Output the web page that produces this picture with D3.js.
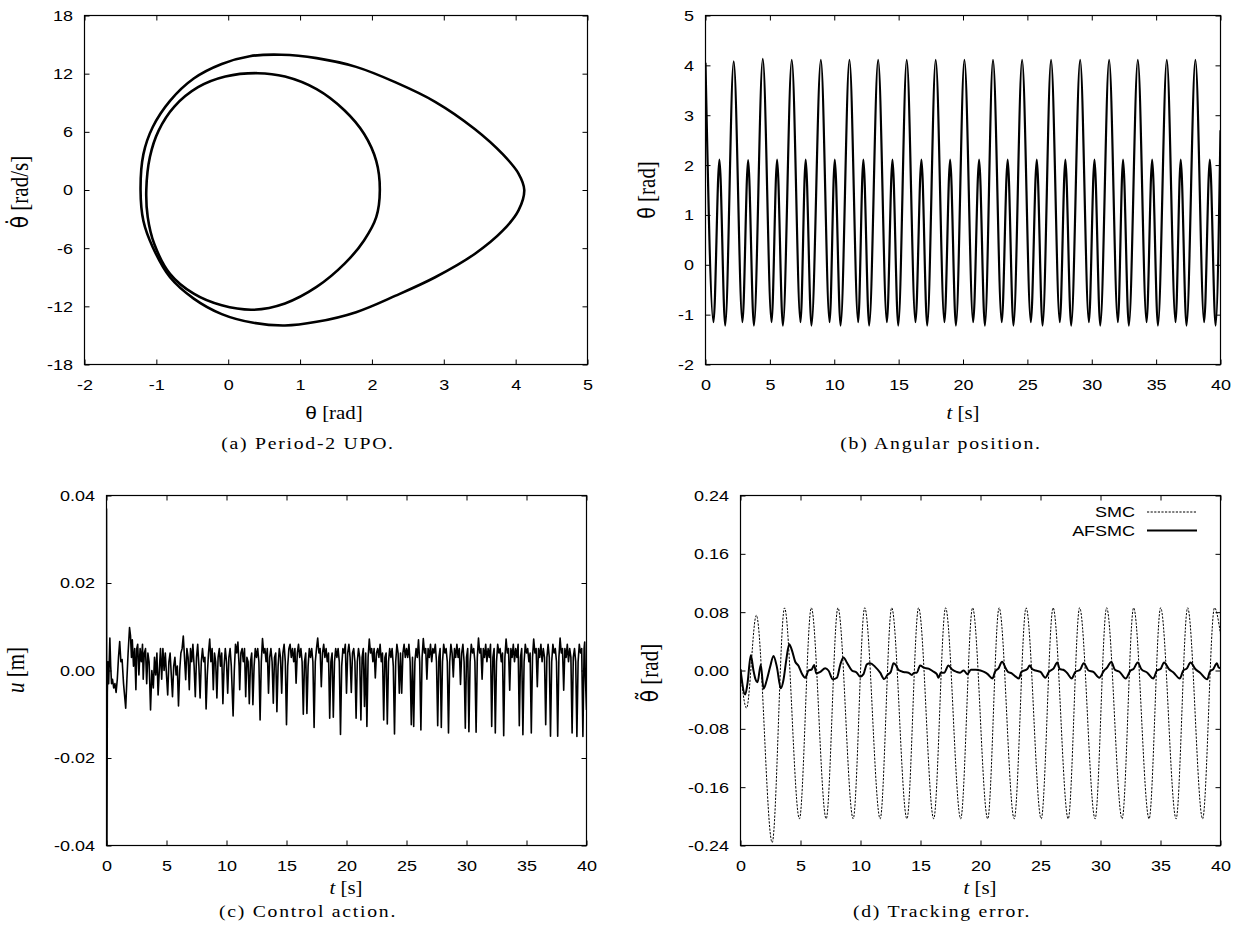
<!DOCTYPE html>
<html>
<head>
<meta charset="utf-8">
<script src="https://cdn.jsdelivr.net/npm/d3@7"></script>
<style>
  body { margin: 0; background: #fff; }
  svg { display: block; }
</style>
</head>
<body>
<script>
// ---------------- data ----------------

// (a) period-2 UPO, [theta, thetaDot]
const orbitOuter = [
  [-1.22, 0], [-1.18, 3.7], [-1.05, 6.5], [-0.81, 9.2], [-0.48, 11.5], [-0.09, 13.0],
  [0.30, 13.8], [0.74, 13.95], [1.23, 13.6], [1.78, 12.7], [2.33, 11.1], [2.88, 9.1],
  [3.43, 6.3], [3.82, 3.7], [4.04, 1.7], [4.12, 0], [4.04, -2.1], [3.82, -4.2],
  [3.43, -6.6], [2.88, -9.0], [2.33, -10.9], [1.78, -12.6], [1.23, -13.6], [0.79, -13.98],
  [0.35, -13.7], [-0.09, -12.8], [-0.48, -11.2], [-0.81, -9.0], [-1.05, -5.9], [-1.18, -3.2]
];
const orbitInner = [
  [-1.14, 0], [-1.09, 3.4], [-0.97, 6.1], [-0.75, 8.6], [-0.42, 10.6], [-0.04, 11.7],
  [0.41, 12.05], [0.79, 11.7], [1.23, 10.4], [1.62, 8.2], [1.89, 5.8], [2.06, 3.0],
  [2.11, 0], [2.06, -2.8], [1.89, -5.2], [1.62, -7.6], [1.23, -10.0], [0.79, -11.7],
  [0.35, -12.35], [-0.09, -11.9], [-0.48, -10.7], [-0.81, -8.65], [-1.03, -5.55], [-1.12, -2.8]
];

// (b) angular position, turning points [t, theta]
const anglePts = [
  [0, 4.05], [0.62, -1.15], [1.08, 2.11], [1.53, -1.22],
  [2.19, 4.08], [2.87, -1.15], [3.31, 2.10], [3.76, -1.22],
  [4.45, 4.13], [5.13, -1.15], [5.56, 2.11], [6.01, -1.22],
  [6.70, 4.11], [7.38, -1.15], [7.78, 2.11], [8.23, -1.22],
  [8.96, 4.11], [9.64, -1.15], [10.04, 2.11], [10.49, -1.22],
  [11.18, 4.11], [11.86, -1.15], [12.26, 2.11], [12.71, -1.22],
  [13.41, 4.11], [14.09, -1.15], [14.52, 2.11], [14.97, -1.22],
  [15.63, 4.11], [16.31, -1.15], [16.77, 2.11], [17.22, -1.22],
  [17.88, 4.11], [18.56, -1.15], [19.00, 2.11], [19.45, -1.22],
  [20.11, 4.11], [20.79, -1.15], [21.25, 2.11], [21.70, -1.22],
  [22.33, 4.11], [23.01, -1.15], [23.47, 2.11], [23.92, -1.22],
  [24.59, 4.11], [25.27, -1.15], [25.73, 2.11], [26.18, -1.22],
  [26.84, 4.11], [27.52, -1.15], [27.95, 2.11], [28.40, -1.22],
  [29.10, 4.11], [29.78, -1.15], [30.21, 2.11], [30.66, -1.22],
  [31.35, 4.11], [32.03, -1.15], [32.43, 2.11], [32.88, -1.22],
  [33.58, 4.11], [34.26, -1.15], [34.69, 2.11], [35.14, -1.22],
  [35.83, 4.11], [36.51, -1.15], [36.91, 2.11], [37.36, -1.22],
  [38.05, 4.11], [38.73, -1.15], [39.17, 2.11], [39.62, -1.22],
  [40, 2.70]
];

// (c) control action [t, u]
const controlPts = [
  [0, 0.037], [0.03, -0.045], [0.07, -0.005], [0.12, 0.002], [0.18, -0.003], [0.28, 0.0074],
  [0.35, 0.001], [0.42, -0.003], [0.5, -0.002], [0.6, -0.004], [0.7, -0.003], [0.8, -0.005],
  [0.9, -0.002], [1.0, 0.003], [1.1, 0.0066], [1.2, 0.002], [1.3, 0.0025], [1.42, -0.003],
  [1.6, -0.0086], [1.7, -0.002], [1.8, 0.004], [1.92, 0.0098], [2.0, 0.008], [2.08, 0.003],
  [2.15, 0.007], [2.25, 0.001], [2.35, 0.005], [2.45, -0.0044], [2.52, 0.005],
  [2.6, 0.006], [2.7, -0.001], [2.8, 0.005], [2.9, 0.002], [3.0, 0.006], [3.06, -0.002],
  [3.15, 0.004], [3.25, 0.005], [3.35, -0.003], [3.45, 0.004], [3.55, 0.002], [3.67, -0.009],
  [3.78, 0.0], [3.9, -0.004], [4.0, 0.003], [4.1, -0.001], [4.2, 0.004], [4.3, -0.0056],
  [4.4, 0.0], [4.5, 0.005], [4.6, -0.002], [4.7, 0.005], [4.8, 0.0], [4.9, 0.004],
  [5.0, -0.001], [5.1, -0.0056],
  [5.2, 0.002], [5.3, 0.004], [5.4, -0.001], [5.5, -0.006], [5.6, 0.001], [5.7, 0.003],
  [5.8, -0.001], [5.9, 0.001], [6.0, -0.0081], [6.1, 0.0], [6.2, 0.004], [6.3, 0.005],
  [6.4, 0.0079], [6.5, 0.003], [6.6, -0.0021], [6.7, 0.005], [6.8, 0.003], [6.9, -0.0044],
  [7.0, 0.005], [7.1, 0.002], [7.2, 0.006], [7.3, 0.001], [7.4, -0.006], [7.5, 0.003],
  [7.6, 0.006], [7.7, 0.001], [7.8, -0.0063], [7.9, 0.002], [8.0, 0.005], [8.1, 0.002],
  [8.2, 0.003], [8.3, -0.0088], [8.4, -0.001], [8.5, 0.004], [8.6, 0.0072], [8.7, 0.002],
  [8.8, 0.005], [8.9, -0.0044], [9.0, 0.004], [9.1, 0.002], [9.2, -0.0063], [9.3, 0.003],
  [9.4, 0.005], [9.5, 0.001], [9.6, 0.004], [9.7, -0.0076], [9.8, 0.001], [9.9, 0.005],
  [10.0, 0.002], [10.1, -0.0052],
  [10.2, 0.003], [10.3, 0.005], [10.4, 0.001], [10.55, -0.0104], [10.65, 0.0], [10.75, 0.006],
  [10.85, 0.004], [10.95, 0.0065], [11.05, 0.001], [11.1, -0.0044], [11.2, 0.004], [11.3, 0.005],
  [11.4, 0.002], [11.5, 0.005], [11.6, -0.006], [11.7, 0.003], [11.8, 0.002], [11.9, -0.0076],
  [12.0, 0.002], [12.1, 0.004], [12.2, -0.0078], [12.3, 0.001], [12.4, 0.005], [12.5, 0.003],
  [12.6, 0.005], [12.7, 0.002], [12.8, -0.0113], [12.9, 0.002], [13.0, 0.0073], [13.1, 0.004],
  [13.2, 0.005], [13.3, 0.002], [13.4, 0.005], [13.5, -0.0052], [13.6, 0.003], [13.7, 0.005],
  [13.8, 0.002], [13.9, -0.0075], [14.0, 0.003], [14.1, 0.004], [14.2, -0.0094], [14.3, 0.001],
  [14.4, 0.005], [14.5, 0.003], [14.6, -0.0052], [14.7, 0.004], [14.8, 0.006], [14.9, 0.002],
  [15.0, -0.0124],
  [15.1, 0.001], [15.2, 0.005], [15.3, 0.006], [15.4, 0.003], [15.5, 0.005], [15.6, 0.002],
  [15.7, 0.005], [15.8, -0.0029], [15.9, 0.004], [16.0, 0.006], [16.1, 0.003], [16.2, 0.005],
  [16.3, 0.002], [16.4, -0.010], [16.5, 0.002], [16.6, 0.004], [16.7, -0.0098], [16.8, 0.001],
  [16.9, 0.005], [17.0, 0.003], [17.1, 0.005], [17.2, 0.002], [17.3, -0.013], [17.4, 0.002],
  [17.5, 0.005],
  [17.6, 0.0074], [17.7, 0.004], [17.8, 0.005], [17.9, -0.0037], [18.0, 0.004], [18.1, 0.006],
  [18.2, 0.003], [18.3, 0.005], [18.4, 0.002], [18.5, 0.004], [18.6, -0.0109], [18.7, 0.002],
  [18.8, 0.004], [18.9, -0.0107], [19.0, 0.002], [19.1, 0.005], [19.2, 0.003], [19.3, 0.005],
  [19.4, 0.002], [19.5, -0.0146], [19.6, 0.001], [19.7, 0.005], [19.8, 0.004], [19.9, 0.006],
  [20.0, -0.0052],
  [20.1, 0.004], [20.2, 0.006], [20.3, 0.003], [20.4, -0.005], [20.5, 0.004], [20.6, 0.005],
  [20.7, 0.002], [20.8, -0.0109], [20.9, 0.002], [21.0, 0.005], [21.1, 0.003], [21.2, -0.0113],
  [21.3, 0.003], [21.4, 0.005], [21.5, -0.0082], [21.6, 0.004], [21.7, -0.0128], [21.8, 0.003],
  [21.9, 0.0072], [22.0, 0.004], [22.1, 0.005], [22.2, 0.002], [22.3, 0.005], [22.4, -0.0017],
  [22.5, 0.004],
  [22.6, 0.005], [22.7, 0.003], [22.8, 0.006], [22.9, 0.002], [23.0, 0.004], [23.1, -0.0113],
  [23.2, 0.003], [23.3, 0.004], [23.4, -0.0122], [23.5, 0.002], [23.6, 0.005], [23.7, 0.003],
  [23.8, 0.005], [23.9, 0.001], [24.0, -0.0145], [24.1, 0.002], [24.2, 0.006], [24.3, 0.004],
  [24.4, -0.0052], [24.5, 0.004], [24.6, -0.0052], [24.7, 0.004], [24.8, 0.006], [24.9, 0.003],
  [25.0, 0.005],
  [25.1, 0.003], [25.2, 0.006], [25.3, 0.002], [25.4, -0.0124], [25.5, 0.003], [25.6, -0.0128],
  [25.7, 0.002], [25.8, 0.005], [25.9, 0.003], [26.0, 0.007], [26.1, 0.002], [26.2, -0.0136],
  [26.3, 0.003], [26.4, 0.0073], [26.5, 0.004], [26.6, 0.005], [26.7, -0.002], [26.8, 0.005],
  [26.9, 0.003], [27.0, 0.006], [27.1, 0.002], [27.2, 0.005], [27.3, 0.004], [27.4, 0.006],
  [27.5, 0.002],
  [27.6, -0.0126], [27.7, 0.003], [27.8, 0.005], [27.9, -0.013], [28.0, 0.002], [28.1, 0.006],
  [28.2, 0.004], [28.3, 0.005], [28.4, 0.002], [28.5, -0.0143], [28.6, 0.002], [28.7, 0.006],
  [28.8, 0.004], [28.9, -0.0015], [29.0, 0.005], [29.1, 0.003], [29.2, 0.006], [29.3, 0.003],
  [29.4, 0.005], [29.5, -0.0032], [29.6, 0.004], [29.7, 0.006], [29.8, 0.002], [29.9, -0.0132],
  [30.0, 0.003],
  [30.1, 0.005], [30.2, -0.0140], [30.3, 0.002], [30.4, 0.006], [30.5, 0.004], [30.6, 0.005],
  [30.7, 0.002], [30.8, -0.0141], [30.9, 0.003], [31.0, 0.0074], [31.1, 0.004], [31.2, 0.005],
  [31.3, -0.002], [31.4, 0.005], [31.5, 0.003], [31.6, 0.006], [31.7, 0.002], [31.8, 0.005],
  [31.9, 0.003], [32.0, 0.006], [32.1, -0.0128], [32.2, 0.003], [32.3, 0.005], [32.4, -0.0143],
  [32.5, 0.002],
  [32.6, 0.006], [32.7, 0.004], [32.8, 0.005], [32.9, 0.002], [33.0, 0.004], [33.1, -0.0149],
  [33.2, 0.003], [33.3, 0.0072], [33.4, 0.004], [33.5, 0.005], [33.6, -0.0045], [33.7, 0.005],
  [33.8, 0.003], [33.9, 0.006], [34.0, 0.002], [34.1, 0.005], [34.2, 0.003], [34.3, 0.006],
  [34.4, -0.0126], [34.5, 0.003], [34.6, 0.005], [34.7, -0.0147], [34.8, 0.002], [34.9, 0.006],
  [35.0, 0.004],
  [35.1, 0.005], [35.2, 0.002], [35.3, 0.004], [35.4, -0.0143], [35.5, 0.003], [35.6, 0.0072],
  [35.7, 0.004], [35.8, 0.005], [35.9, -0.0037], [36.0, 0.005], [36.1, 0.003], [36.2, 0.006],
  [36.3, 0.002], [36.4, 0.005], [36.5, 0.003], [36.6, -0.0124], [36.7, 0.003], [36.8, 0.006],
  [36.9, 0.003], [37.0, -0.015], [37.1, 0.002], [37.2, 0.006], [37.3, 0.004], [37.4, 0.005],
  [37.5, 0.002],
  [37.6, -0.015], [37.7, 0.003], [37.8, 0.0074], [37.9, 0.004], [38.0, 0.005], [38.1, -0.0045],
  [38.2, 0.005], [38.3, 0.003], [38.4, 0.006], [38.5, 0.002], [38.6, 0.005], [38.7, 0.003],
  [38.8, -0.0143], [38.9, 0.003], [39.0, 0.005], [39.1, 0.002], [39.2, -0.0151], [39.3, 0.002],
  [39.4, 0.006], [39.5, 0.004], [39.6, 0.005], [39.7, -0.0151], [39.8, 0.005], [39.85, 0.0065],
  [39.9, -0.001], [40, -0.009]
];

// (d) tracking error [t, error]
const smcPts = [
  [0, 0.0], [0.5, -0.0515], [1.32, 0.0757], [2.64, -0.236], [3.67, 0.0858], [4.91, -0.2034],
  [5.90, 0.086], [7.14, -0.2034], [8.12, 0.086], [9.39, -0.2034], [10.35, 0.086], [11.64, -0.2034],
  [12.60, 0.086], [13.87, -0.2034], [14.84, 0.086], [16.10, -0.2034], [17.09, 0.086], [18.35, -0.2034],
  [19.34, 0.086], [20.60, -0.2034], [21.55, 0.086], [22.81, -0.2034], [23.80, 0.086], [25.06, -0.2034],
  [26.05, 0.086], [27.31, -0.2034], [28.26, 0.086], [29.55, -0.2034], [30.51, 0.086], [31.80, -0.2034],
  [32.76, 0.086], [34.05, -0.2034], [35.01, 0.086], [36.30, -0.2034], [37.26, 0.086], [38.51, -0.2034],
  [39.50, 0.086], [40, 0.05]
];
const afsmcPts = [
  [0, 0.002], [0.39, -0.033], [0.58, -0.018], [0.86, 0.021], [1.08, 0.0], [1.25, -0.012],
  [1.42, -0.016], [1.69, 0.008], [1.92, -0.025], [2.19, -0.013], [2.47, 0.005], [2.75, 0.020],
  [3.03, 0.005], [3.36, -0.0245], [3.58, -0.013], [3.81, 0.014], [4.06, 0.036], [4.28, 0.028],
  [4.56, 0.012], [4.83, 0.0066], [5.11, -0.004], [5.39, -0.010], [5.67, 0.0], [5.94, 0.0016],
  [6.14, 0.0076], [6.31, -0.004], [6.64, -0.002], [7.06, 0.003], [7.33, 0.0], [7.69, -0.012],
  [8.03, -0.010], [8.31, 0.0076], [8.58, 0.018], [8.86, 0.011], [9.28, 0.0], [9.69, -0.003],
  [9.97, -0.0085], [10.25, -0.005], [10.53, 0.0085], [10.8, 0.010], [11.22, 0.005], [11.64, -0.003],
  [11.97, -0.0117], [12.25, -0.006], [12.53, -0.0016], [12.75, 0.010], [12.94, 0.0076], [13.17, 0.0007],
  [13.58, -0.002], [14.0, -0.003], [14.28, -0.006], [14.47, -0.003], [14.69, -0.003], [14.97, 0.007],
  [15.25, 0.004], [15.67, 0.0025], [16.08, -0.0016], [16.36, -0.005], [16.5, -0.0099], [16.69, -0.003],
  [16.97, -0.003], [17.33, 0.007], [17.61, 0.0016], [18.03, -0.002], [18.3, -0.003], [18.6, 0.0],
  [18.9, -0.005], [19.2, 0.001], [19.6, 0.001], [20.0, 0.0], [20.3, -0.002], [20.6, -0.005],
  [21.0, -0.011], [21.2, -0.002], [21.5, 0.003], [21.8, 0.012], [22.1, 0.003], [22.3, -0.002],
  [22.6, -0.004], [22.9, -0.008], [23.2, -0.011], [23.4, -0.002], [23.9, 0.002], [24.1, 0.007],
  [24.3, 0.002], [24.6, 0.0], [25.0, -0.002], [25.4, -0.0099], [25.7, -0.002], [26.1, 0.003],
  [26.4, 0.011], [26.6, 0.002], [26.9, 0.001], [27.2, -0.003], [27.6, -0.011], [27.9, -0.002],
  [28.3, 0.001], [28.6, 0.010], [29.0, 0.0], [29.4, -0.002], [29.9, -0.0099], [30.3, 0.0],
  [30.5, 0.003], [30.9, 0.0117], [31.2, 0.001], [31.6, -0.002], [32.1, -0.011], [32.5, 0.0],
  [32.75, 0.002], [33.1, 0.011], [33.4, 0.002], [33.9, -0.003], [34.4, -0.011], [34.7, 0.0],
  [35.0, 0.002], [35.3, 0.011], [35.7, 0.002], [36.1, -0.003], [36.6, -0.011], [36.9, 0.0],
  [37.2, 0.003], [37.5, 0.011], [37.9, 0.002], [38.3, -0.003], [38.9, -0.012], [39.1, -0.002],
  [39.4, 0.002], [39.7, 0.010], [39.85, 0.004], [40, 0.003]
];
const errorSeries = ["SMC", "AFSMC"];

// tick values
const phaseXTicks = [-2, -1, 0, 1, 2, 3, 4, 5];
const phaseYTicks = [-18, -12, -6, 0, 6, 12, 18];
const angleYTicks = [-2, -1, 0, 1, 2, 3, 4, 5];
const timeTicks = [0, 5, 10, 15, 20, 25, 30, 35, 40];
const controlYTicks = [-0.04, -0.02, 0, 0.02, 0.04];
const errorYTicks = [-0.24, -0.16, -0.08, 0, 0.08, 0.16, 0.24];

// ---------------- drawing ----------------
const width = 1242, height = 942;
const SANS = "'Liberation Sans', Arial, Helvetica, sans-serif";
const SERIF = "'Liberation Serif', 'Times New Roman', serif";
const ACCENT = "'DejaVu Sans', sans-serif";   // has the combining dot / tilde
const SX = 1.16;   // lettering in the figure is a bit wider than tall
const TICK = 5;

const loc = d3.formatLocale({decimal: ".", thousands: ",", grouping: [3], currency: ["", ""], minus: "-"});
const fmtInt = loc.format("d");
const fmt2 = loc.format(".2f");

const svg = d3.select("body").append("svg")
  .attr("width", width)
  .attr("height", height)
  .style("background", "#fff");

function panel(box, xDom, yDom, xTicks, yTicks, yFmt, clipId) {
  const x = d3.scaleLinear().domain(xDom).range([box.left, box.right]);
  const y = d3.scaleLinear().domain(yDom).range([box.bottom, box.top]);
  const g = svg.append("g");

  svg.append("clipPath").attr("id", clipId)
    .append("rect")
    .attr("x", box.left).attr("y", box.top)
    .attr("width", box.right - box.left)
    .attr("height", box.bottom - box.top);

  // gnuplot style: ticks point inwards, mirrored on top and right
  g.append("g").attr("transform", `translate(0,${box.bottom})`)
    .call(d3.axisBottom(x).tickValues(xTicks).tickFormat(fmtInt)
      .tickSize(-TICK).tickSizeOuter(0).tickPadding(15));
  g.append("g").attr("transform", `translate(0,${box.top})`)
    .call(d3.axisTop(x).tickValues(xTicks).tickFormat(() => "")
      .tickSize(-TICK).tickSizeOuter(0));
  g.append("g").attr("transform", `translate(${box.left},0)`)
    .call(d3.axisLeft(y).tickValues(yTicks).tickFormat(yFmt)
      .tickSize(-TICK).tickSizeOuter(0).tickPadding(11.5));
  g.append("g").attr("transform", `translate(${box.right},0)`)
    .call(d3.axisRight(y).tickValues(yTicks).tickFormat(() => "")
      .tickSize(-TICK).tickSizeOuter(0));

  g.selectAll(".domain").remove();
  g.selectAll(".tick line").attr("stroke", "#000").attr("stroke-width", 1);
  g.selectAll(".tick text")
    .attr("fill", "#000")
    .attr("font-size", "15.5px")
    .attr("font-family", SANS)
    .each(function () {
      const t = d3.select(this);
      t.attr("x", (+t.attr("x") || 0) / SX).attr("transform", `scale(${SX},1)`);
    });

  // frame
  g.append("rect")
    .attr("x", box.left).attr("y", box.top)
    .attr("width", box.right - box.left)
    .attr("height", box.bottom - box.top)
    .attr("fill", "none")
    .attr("stroke", "#000")
    .attr("stroke-width", 1.2);

  const plot = svg.append("g").attr("clip-path", `url(#${clipId})`);
  return {x, y, g, plot};
}

// mixed-font label centred on (cx, cy)
function label(cx, cy, parts, rotate, extra) {
  const t = svg.append("text")
    .attr("transform", `translate(${cx},${cy}) scale(${SX},1)` + (rotate ? " rotate(-90)" : ""))
    .attr("text-anchor", "middle")
    .attr("dy", "0.35em")
    .attr("fill", "#000");
  parts.forEach(p => {
    t.append("tspan")
      .text(p.text)
      .attr("font-family", p.family || (p.serif ? SERIF : SANS))
      .attr("font-size", p.size + "px")
      .attr("font-style", p.italic ? "italic" : null);
  });
  if (extra) extra(t);
  return t;
}

function caption(cx, cy, text) {
  label(cx, cy, [{text, serif: true, size: 17}], false,
    t => t.attr("letter-spacing", "1.5px"));
}

// ---- (a) phase portrait ----
const pa = panel({left: 84.5, right: 587.5, top: 15.5, bottom: 364.5},
  [-2, 5], [-18, 18], phaseXTicks, phaseYTicks, fmtInt, "clipA");

const orbitLine = d3.line()
  .x(d => pa.x(d[0]))
  .y(d => pa.y(d[1]))
  .curve(d3.curveCatmullRomClosed.alpha(0.5));

pa.plot.selectAll("path.orbit")
  .data([orbitOuter, orbitInner])
  .join("path")
  .attr("class", "orbit")
  .attr("d", orbitLine)
  .attr("fill", "none")
  .attr("stroke", "#000")
  .attr("stroke-width", 2.6);

label(334, 413, [{text: "θ", size: 18}, {text: " [rad]", serif: true, size: 18}]);
label(21, 192, [{text: "θ̇", family: ACCENT, size: 20}, {text: " [rad/s]", serif: true, size: 21}], true);
caption(308, 443, "(a) Period-2 UPO.");

// ---- (b) angular position ----
const pb = panel({left: 705.5, right: 1220.5, top: 15.5, bottom: 364.5},
  [0, 40], [-2, 5], timeTicks, angleYTicks, fmtInt, "clipB");

pb.plot.append("path")
  .datum(anglePts)
  .attr("d", d3.line().x(d => pb.x(d[0])).y(d => pb.y(d[1])).curve(d3.curveMonotoneX))
  .attr("fill", "none")
  .attr("stroke", "#000")
  .attr("stroke-width", 2.2);

label(963, 413, [{text: "t", serif: true, italic: true, size: 18}, {text: " [s]", serif: true, size: 18}]);
label(648, 190, [{text: "θ", size: 21}, {text: " [rad]", serif: true, size: 21}], true);
caption(941, 443, "(b) Angular position.");

// ---- (c) control action ----
const pc = panel({left: 106.5, right: 586.5, top: 495.5, bottom: 845.5},
  [0, 40], [-0.04, 0.04], timeTicks, controlYTicks, fmt2, "clipC");

pc.plot.append("path")
  .datum(controlPts)
  .attr("d", d3.line().x(d => pc.x(d[0])).y(d => pc.y(d[1])))
  .attr("fill", "none")
  .attr("stroke", "#000")
  .attr("stroke-width", 1.6)
  .attr("stroke-linejoin", "round");

label(346, 888, [{text: "t", serif: true, italic: true, size: 18}, {text: " [s]", serif: true, size: 18}]);
label(17, 670, [{text: "u", serif: true, italic: true, size: 21}, {text: " [m]", serif: true, size: 21}], true);
caption(308, 911, "(c) Control action.");

// ---- (d) tracking error ----
const pd = panel({left: 740.5, right: 1220.5, top: 495.5, bottom: 845.5},
  [0, 40], [-0.24, 0.24], timeTicks, errorYTicks, fmt2, "clipD");

const errLine = d3.line().x(d => pd.x(d[0])).y(d => pd.y(d[1])).curve(d3.curveMonotoneX);
const errStyle = [
  {dash: "2.2,1.4", w: 1},
  {dash: null, w: 2}
];

pd.plot.selectAll("path.err")
  .data([smcPts, afsmcPts])
  .join("path")
  .attr("class", "err")
  .attr("d", errLine)
  .attr("fill", "none")
  .attr("stroke", "#000")
  .attr("stroke-width", (d, i) => errStyle[i].w)
  .attr("stroke-dasharray", (d, i) => errStyle[i].dash);

// legend, top right inside the frame
const legend = svg.append("g").attr("transform", "translate(1135, 512)");
errorSeries.forEach((name, i) => {
  legend.append("text")
    .attr("transform", `translate(0,${i * 18.5}) scale(${SX},1)`)
    .attr("text-anchor", "end")
    .attr("dy", "0.35em")
    .attr("font-family", SANS)
    .attr("font-size", "15.5px")
    .attr("fill", "#000")
    .text(name);
  legend.append("line")
    .attr("x1", 12).attr("x2", 62)
    .attr("y1", i * 18.5).attr("y2", i * 18.5)
    .attr("stroke", "#000")
    .attr("stroke-width", errStyle[i].w)
    .attr("stroke-dasharray", errStyle[i].dash);
});

label(980, 888, [{text: "t", serif: true, italic: true, size: 18}, {text: " [s]", serif: true, size: 18}]);
label(651, 673, [{text: "θ̃", family: ACCENT, size: 20}, {text: " [rad]", serif: true, size: 21}], true);
caption(942, 911, "(d) Tracking error.");
</script>
</body>
</html>
